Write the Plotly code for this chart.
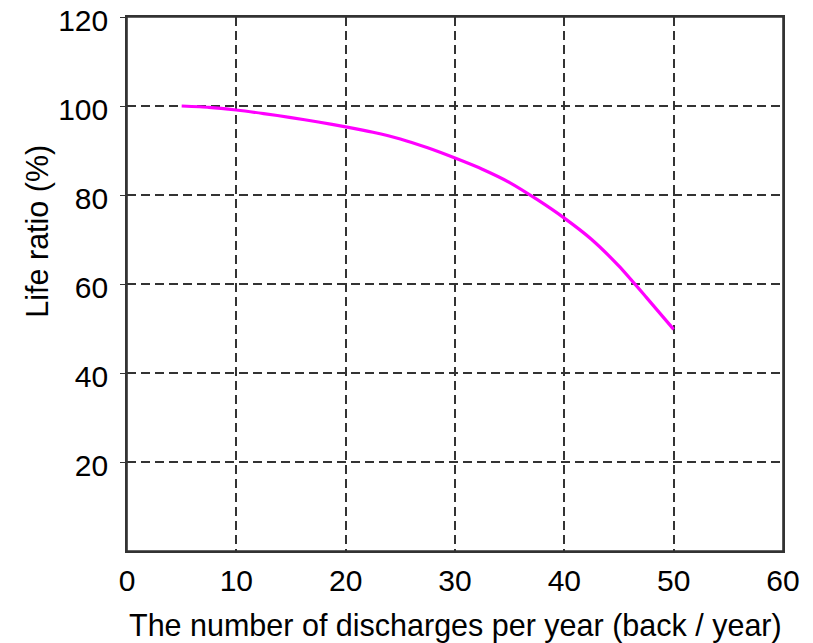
import plotly.graph_objects as go

discharges = [5, 7.5, 10, 12.5, 15, 17.5, 20, 22.5, 25, 27.5, 30, 32.5, 35, 37.5, 40, 42.5, 45, 47.5, 50]
life_ratio = [100, 99.7, 99.1, 98.3, 97.4, 96.4, 95.3, 94.1, 92.6, 90.6, 88.3, 85.8, 82.8, 79.0, 74.8, 70.0, 64.0, 57.0, 49.8]

x_ticks = [0, 10, 20, 30, 40, 50, 60]
y_ticks = [20, 40, 60, 80, 100, 120]

FONT = "Liberation Sans, Arial, sans-serif"
GRID = "#333333"

fig = go.Figure()
fig.add_trace(go.Scatter(
    x=discharges, y=life_ratio, mode="lines",
    line=dict(color="#ff00ff", width=3.2, shape="spline", smoothing=0.6),
    showlegend=False,
))

fig.update_layout(
    width=813, height=643,
    margin=dict(l=119, r=38, t=9, b=100, autoexpand=False),
    paper_bgcolor="white", plot_bgcolor="white",
    font=dict(family=FONT, size=30, color="black"),
)
fig.update_xaxes(
    range=[0, 60], tickvals=x_ticks, ticktext=[str(v) for v in x_ticks],
    showgrid=True, gridcolor=GRID, gridwidth=1.5, griddash="9px,5px",
    showline=True, linecolor=GRID, linewidth=1.6, mirror=True,
    ticks="", zeroline=False, automargin=False,
    tickfont=dict(size=30), ticklabelstandoff=2, ticklabeloverflow="allow",
)
fig.update_yaxes(
    range=[0, 120], tickvals=y_ticks, ticktext=[str(v) for v in y_ticks],
    showgrid=True, gridcolor=GRID, gridwidth=1.5, griddash="9px,5px",
    showline=True, linecolor=GRID, linewidth=1.6, mirror=True,
    ticks="outside", ticklen=5, tickcolor=GRID, zeroline=False, automargin=False,
    tickfont=dict(size=30), ticklabelstandoff=6, ticklabeloverflow="allow",
    ticklabelshift=3,
)
fig.add_shape(
    type="rect", xref="paper", yref="paper", x0=0, x1=1, y0=0, y1=1,
    line=dict(color=GRID, width=1.6), layer="above",
)
fig.add_annotation(
    text="Life ratio (%)", textangle=-90,
    xref="paper", yref="paper", x=0, xanchor="center", xshift=-89,
    y=0.598, yanchor="middle",
    showarrow=False, font=dict(size=30.5, family=FONT, color="black"),
)
fig.add_annotation(
    text="The number of discharges per year (back / year)",
    xref="paper", yref="paper", x=0.5, xanchor="center",
    y=0, yanchor="middle", yshift=-74,
    showarrow=False, font=dict(size=30.5, family=FONT, color="black"),
)

fig.write_html("out.html")
